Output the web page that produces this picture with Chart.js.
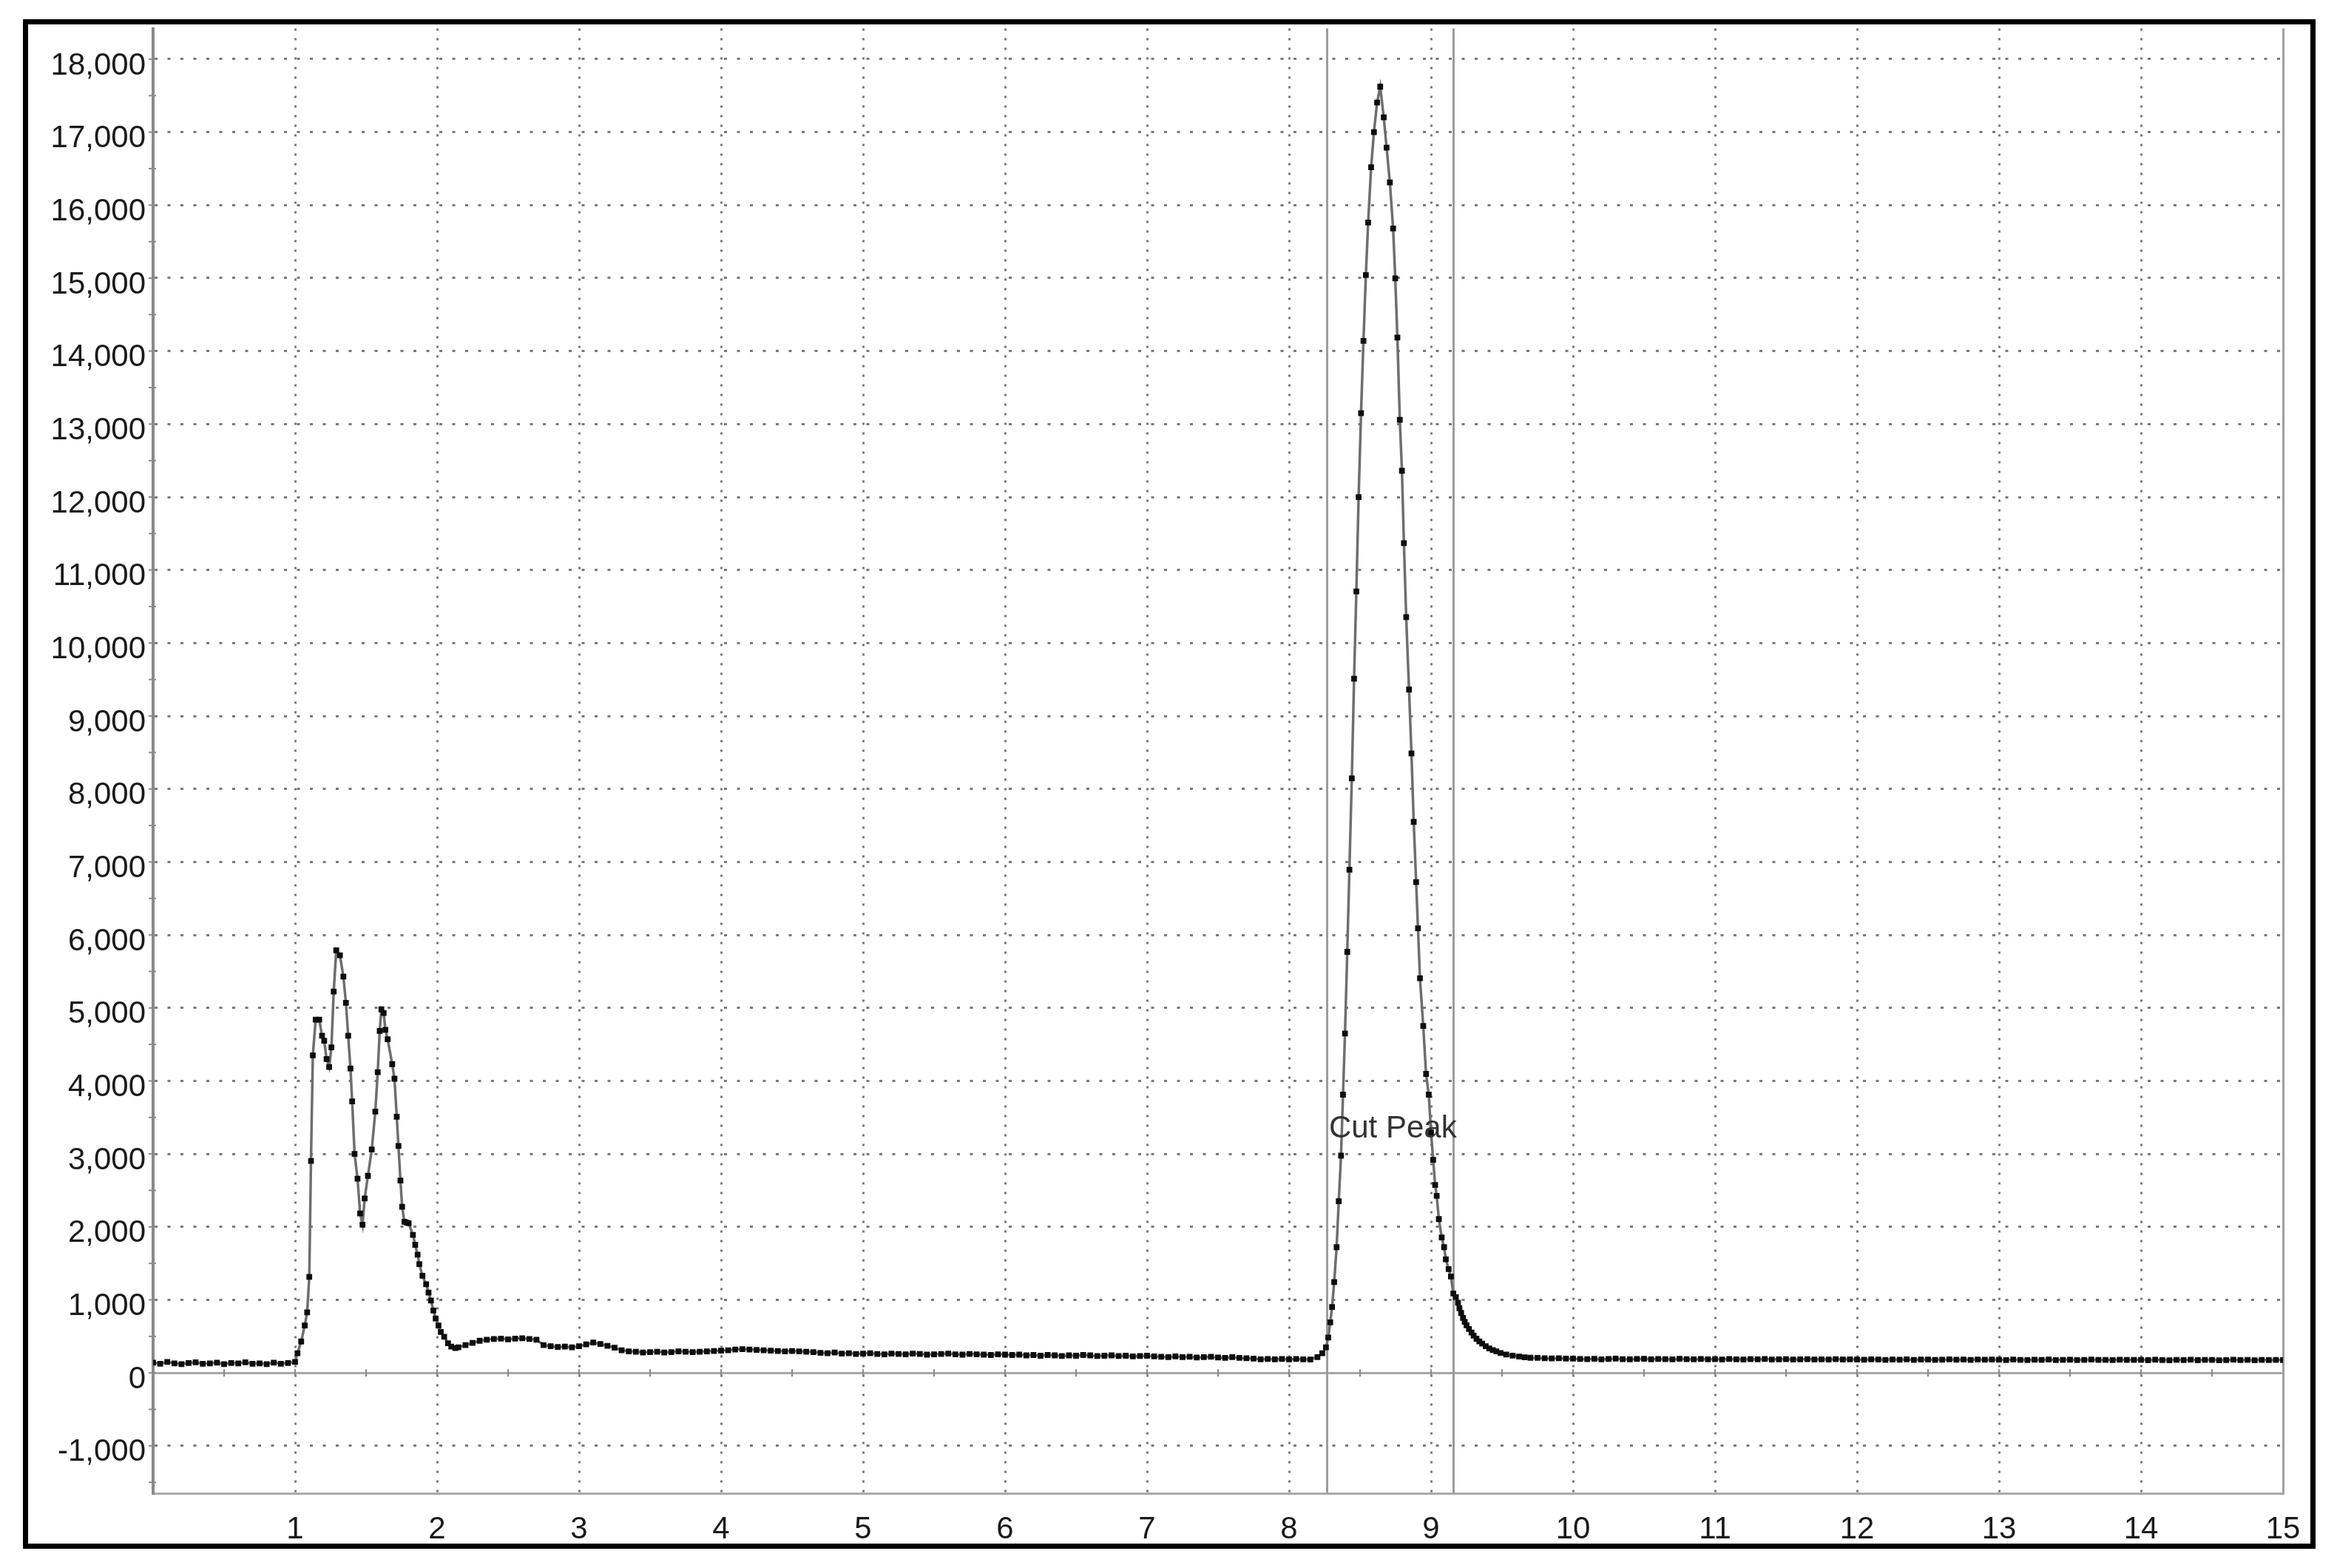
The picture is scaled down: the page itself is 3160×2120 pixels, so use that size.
<!DOCTYPE html>
<html>
<head>
<meta charset="utf-8">
<script src="https://cdn.jsdelivr.net/npm/chart.js@4.4.1/dist/chart.umd.min.js"></script>
<style>
  html, body { margin: 0; padding: 0; background: #fff; }
  body { width: 3160px; height: 2120px; position: relative; overflow: hidden; }
  #frame { position: absolute; left: 31px; top: 26px; width: 3086px; height: 2054px; border: 7px solid #000; background: #fff; }
  #chromo { display: block; }
</style>
</head>
<body>
<div id="frame"><canvas id="chromo" width="3086" height="2054"></canvas></div>
<script>
// retention time (min) / signal

// flat stretches, sampled every 0.05 min from each start time
const baseStep = 0.05;
const baseStarts = [0, 2.15, 3, 4, 5, 6, 7, 8, 9.75, 10, 11, 12, 13, 14];
const baseValues = [
  [140,125,150,130,120,135,145,125,130,140,120,135,130,145,125,130,120,140,125,135],
  [350,380,410,440,455,465,470,460,470,475,465,455,380,365,355,360,350],
  [365,390,415,395,370,345,310,295,290,280,285,290,280,285,295,290,285,290,295,300],
  [305,310,320,325,320,315,310,305,300,295,300,295,290,285,275,270,280,265,270,260],
  [265,270,260,255,265,260,255,265,260,250,255,260,265,255,250,260,255,250,245,255],
  [250,245,250,240,245,235,245,240,230,240,235,245,240,230,235,240,230,235,225,230],
  [235,225,220,215,225,215,220,210,215,220,210,205,215,205,200,195,185,190,185,190],
  [185,190,185],
  [205,200,198,200,195],
  [195,190,188,192,185,190,195,188,185,190,192,186,190,188,185,192,188,185,190,186],
  [188,184,190,186,182,188,185,190,183,186,188,182,185,189,184,186,182,188,184,186],
  [184,180,186,182,178,184,180,185,179,182,184,178,181,185,180,182,178,184,180,182],
  [180,176,182,178,175,180,177,182,176,179,181,175,178,182,177,179,175,181,177,179],
  [178,174,180,176,173,178,175,180,174,177,179,173,176,180,175,177,173,179,175,177,176]
];

// early peak group
const earlyTimes = [1.0,1.017,1.043,1.068,1.085,1.1,1.112,1.125,1.145,1.17,1.19,1.205,1.222,1.24,1.256,1.272,1.29,1.316,1.34,1.358,1.374,1.39,1.402,1.419,1.44,1.458,1.475,1.49,1.513,1.54,1.565,1.582,1.596,1.608,1.624,1.636,1.652,1.684,1.7,1.716,1.728,1.742,1.754,1.77,1.785,1.8,1.83,1.846,1.863,1.875,1.897,1.923,1.94,1.957,1.974,1.99,2.01,2.026,2.05,2.077,2.1,2.128];
const earlySignal = [150,270,430,650,830,1315,2905,4350,4840,4840,4620,4550,4300,4190,4460,5225,5790,5720,5430,5070,4620,4170,3720,3000,2660,2185,2030,2390,2700,3060,3580,4120,4685,4980,4930,4700,4570,4230,4030,3510,3110,2635,2275,2070,2060,2050,1890,1755,1620,1490,1330,1215,1100,990,855,745,650,560,495,405,360,340];

// main peak
const peakTimes = [8.15,8.2,8.234,8.26,8.276,8.29,8.303,8.318,8.335,8.35,8.366,8.38,8.394,8.41,8.425,8.442,8.458,8.474,8.49,8.507,8.524,8.541,8.557,8.578,8.598,8.62,8.642,8.667,8.687,8.71,8.733,8.748,8.763,8.78,8.795,8.809,8.825,8.845,8.862,8.878,8.895,8.908,8.922,8.945,8.965,8.984,9.0,9.015,9.029,9.04,9.055,9.075,9.092,9.104,9.124,9.14,9.157,9.175,9.19,9.2,9.212,9.225,9.237,9.25,9.267,9.285,9.3,9.32,9.34,9.36,9.385,9.41,9.435,9.46,9.49,9.53,9.575,9.62,9.66,9.7];
const peakSignal = [184,217,268,351,485,692,903,1244,1722,2351,2976,3812,4649,5768,6895,8145,9511,10707,12000,13149,14140,15041,15761,16518,17000,17405,17622,17203,16788,16311,15680,14995,14185,13059,12360,11369,10355,9363,8488,7549,6724,6092,5406,4753,4096,3812,3294,2919,2575,2424,2107,1856,1722,1555,1421,1321,1087,1037,960,886,820,752,700,652,600,552,510,468,432,401,365,334,312,294,272,251,236,224,214,207];

const xTickValues = [1,2,3,4,5,6,7,8,9,10,11,12,13,14,15];
const yTickValues = [-1000,0,1000,2000,3000,4000,5000,6000,7000,8000,9000,10000,11000,12000,13000,14000,15000,16000,17000,18000];
const xMin = 0, xMax = 15, yMin = -1650, yMax = 18420;

const cutTimes = [8.265, 9.155];
const cutLabel = "Cut Peak";
const cutLabelLevel = 3220;

// build the trace
let points = [];
baseStarts.forEach((t0, i) => {
  baseValues[i].forEach((v, j) => points.push({ x: +(t0 + j * baseStep).toFixed(3), y: v }));
});
earlyTimes.forEach((t, i) => points.push({ x: t, y: earlySignal[i] }));
peakTimes.forEach((t, i) => points.push({ x: t, y: peakSignal[i] }));
points.sort((a, b) => a.x - b.x);

// small axis marks every half unit
const xMarks = [];
for (let v = 0.5; v < xMax; v += 0.5) xMarks.push(v);
const yMarks = [];
for (let v = -1500; v <= 18000; v += 500) yMarks.push(v);

const decorations = {
  id: "decorations",
  beforeDatasetsDraw(chart) {
    const { ctx, chartArea: area, scales: { x, y } } = chart;
    ctx.save();
    ctx.strokeStyle = "#9c9c9c";
    ctx.lineWidth = 3;
    cutTimes.forEach(t => {
      const px = Math.round(x.getPixelForValue(t)) + 0.5;
      ctx.beginPath();
      ctx.moveTo(px, area.top);
      ctx.lineTo(px, area.bottom);
      ctx.stroke();
    });
    const zy = y.getPixelForValue(0);
    ctx.strokeStyle = "#8a8a8a";
    ctx.lineWidth = 2;
    xMarks.forEach(v => {
      const px = x.getPixelForValue(v);
      ctx.beginPath();
      ctx.moveTo(px, zy - 5);
      ctx.lineTo(px, zy + 5);
      ctx.stroke();
    });
    yMarks.forEach(v => {
      const py = y.getPixelForValue(v);
      ctx.beginPath();
      ctx.moveTo(area.left - 6, py);
      ctx.lineTo(area.left + 4, py);
      ctx.stroke();
    });
    ctx.restore();
  },
  afterDatasetsDraw(chart) {
    const { ctx, scales: { x, y } } = chart;
    ctx.save();
    ctx.font = '42px "Liberation Sans", Arial, sans-serif';
    ctx.fillStyle = "#333";
    ctx.textAlign = "left";
    ctx.textBaseline = "alphabetic";
    ctx.fillText(cutLabel, x.getPixelForValue(cutTimes[0]) + 3, y.getPixelForValue(cutLabelLevel));
    ctx.restore();
  }
};

Chart.defaults.font.family = '"Liberation Sans", Arial, sans-serif';
Chart.defaults.font.size = 42;
Chart.defaults.color = "#1a1a1a";

new Chart(document.getElementById("chromo"), {
  type: "line",
  data: {
    datasets: [
      {
        data: points,
        borderColor: "#6e6e6e",
        borderWidth: 3.5,
        pointStyle: "rect",
        pointRadius: 5.5,
        pointBackgroundColor: "#0d0d0d",
        pointBorderWidth: 0,
        tension: 0,
      },
    ],
  },
  options: {
    responsive: false,
    animation: false,
    events: [],
    layout: { padding: { top: 0, right: 37, bottom: 0, left: 0 } },
    plugins: {
      legend: { display: false },
      tooltip: { enabled: false },
    },
    scales: {
      x: {
        type: "linear",
        min: xMin,
        max: xMax,
        afterBuildTicks: (s) => { s.ticks = xTickValues.map(v => ({ value: v })); },
        afterFit: (s) => { s.height = 68; s.paddingLeft = 0; s.paddingRight = 0; },
        grid: {
          color: (c) => (c.tick && c.tick.value === xMax ? "#a0a0a0" : "#7a7a7a"),
          lineWidth: 3,
          drawTicks: false,
        },
        border: {
          color: "#aaaaaa",
          width: 3,
          dash: (c) => (c.tick && c.tick.value === xMax ? [] : [3, 10]),
        },
        ticks: {
          padding: 24,
          autoSkip: false,
          maxRotation: 0,
          callback: (v) => String(v),
        },
      },
      y: {
        type: "linear",
        min: yMin,
        max: yMax,
        afterBuildTicks: (s) => { s.ticks = yTickValues.map(v => ({ value: v })); },
        afterFit: (s) => { s.width = 169; s.paddingTop = 0; s.paddingBottom = 0; },
        grid: {
          color: (c) => (c.tick && c.tick.value === 0 ? "#a6a6a6" : "#7a7a7a"),
          lineWidth: 3,
          drawTicks: false,
        },
        border: {
          color: "#8a8a8a",
          width: 4,
          dash: (c) => (c.tick && c.tick.value === 0 ? [] : [4, 13.5]),
        },
        ticks: {
          padding: 10,
          labelOffset: 9,
          autoSkip: false,
          callback: (v) => v.toLocaleString("en-US"),
        },
      },
    },
  },
  plugins: [decorations],
});
</script>
</body>
</html>
